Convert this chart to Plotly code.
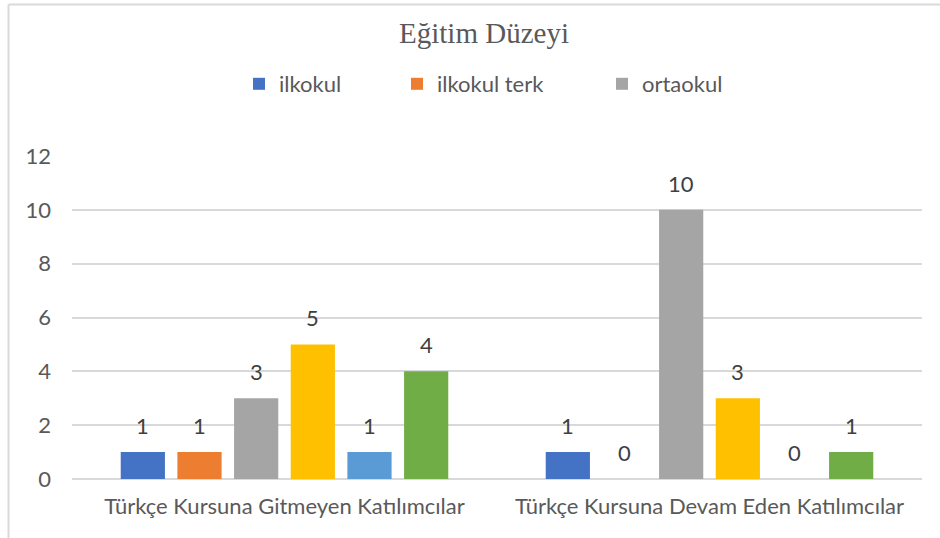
import plotly.graph_objects as go

# Education level counts by course attendance group
categories = ["Türkçe Kursuna Gitmeyen Katılımcılar", "Türkçe Kursuna Devam Eden Katılımcılar"]
series_names = ["ilkokul", "ilkokul terk", "ortaokul", "ortaokul terk", "lise", "üniversite"]
ilkokul = [1, 1]
ilkokul_terk = [1, 0]
ortaokul = [3, 10]
ortaokul_terk = [5, 3]
lise = [1, 0]
universite = [4, 1]
series_values = [ilkokul, ilkokul_terk, ortaokul, ortaokul_terk, lise, universite]
colors = ["#4472C4", "#ED7D31", "#A5A5A5", "#FFC000", "#5B9BD5", "#70AD47"]
# only the first three series get a legend entry, each placed at its own x
legend_ids = ["legend", "legend2", "legend3", None, None, None]
legend_text_x = [279, 437, 642]
y_ticks = [0, 2, 4, 6, 8, 10, 12]

W, H = 940, 538
ML, MR, MT, MB = 72, 18, 156, 59
BARGAP = 0.2
BARGROUPGAP = 0.22

SANS = "Lato, 'Open Sans', sans-serif"
TEXT_GREY = "#595959"
GRID = "#D9D9D9"
FS = 22

fig = go.Figure()
for name, vals, col, lid in zip(series_names, series_values, colors, legend_ids):
    kw = dict(showlegend=lid is not None)
    if lid is not None:
        kw["legend"] = lid
    fig.add_trace(go.Bar(
        x=categories, y=vals, name=name, marker_color=col,
        marker_line_width=0, **kw,
    ))

# value labels above each bar, positioned on the grouped-bar slots
n = len(series_values)
slot = (1 - BARGAP) / n
annotations = []
for i, vals in enumerate(series_values):
    offset = -(1 - BARGAP) / 2 + (i + 0.5) * slot
    for ci, v in enumerate(vals):
        annotations.append(dict(
            x=ci + offset, y=v, xref="x", yref="y", text=str(v),
            showarrow=False, yanchor="bottom", yshift=11,
            font=dict(family=SANS, size=FS, color="#404040"),
        ))

# chart frame (top and left edges)
pw = W - ML - MR
ph = H - MT - MB
def px_x(p):
    return (p - ML) / pw
def px_y(p):
    return (H - MB - p) / ph

shapes = [
    dict(type="line", xref="paper", yref="paper",
         x0=px_x(8.5), x1=px_x(945), y0=px_y(4.5), y1=px_y(4.5),
         line=dict(color=GRID, width=2)),
    dict(type="line", xref="paper", yref="paper",
         x0=px_x(8.5), x1=px_x(8.5), y0=px_y(4.5), y1=px_y(545),
         line=dict(color=GRID, width=2)),
]

legend_style = dict(
    orientation="h", xanchor="left", xref="container",
    y=1 - 84 / H, yanchor="middle", yref="container",
    font=dict(family=SANS, size=FS, color=TEXT_GREY),
    itemwidth=30, bgcolor="rgba(0,0,0,0)",
)
legends = {}
for key, tx in zip(["legend", "legend2", "legend3"], legend_text_x):
    legends[key] = dict(legend_style, x=(tx - 40) / W)

fig.update_layout(
    width=W, height=H,
    margin=dict(l=ML, r=MR, t=MT, b=MB),
    paper_bgcolor="white", plot_bgcolor="white",
    barmode="group", bargap=BARGAP, bargroupgap=BARGROUPGAP,
    title=dict(
        text="Eğitim Düzeyi", x=484 / W, xanchor="center",
        y=1 - 33 / H, yanchor="middle", xref="container", yref="container",
        font=dict(family="'Liberation Serif', 'Times New Roman', serif", size=29, color=TEXT_GREY),
    ),
    xaxis=dict(
        type="category", showgrid=False, showline=False, ticks="",
        tickfont=dict(family=SANS, size=FS, color=TEXT_GREY),
        ticklabelstandoff=12,
    ),
    yaxis=dict(
        range=[0, 12], tickvals=y_ticks, showgrid=True, gridcolor=GRID, gridwidth=2,
        zeroline=True, zerolinecolor=GRID, zerolinewidth=2, showline=False,
        ticks="", ticklabelstandoff=20,
        tickfont=dict(family=SANS, size=FS, color=TEXT_GREY),
    ),
    annotations=annotations,
    shapes=shapes,
    **legends,
)

fig.write_html("out.html")
